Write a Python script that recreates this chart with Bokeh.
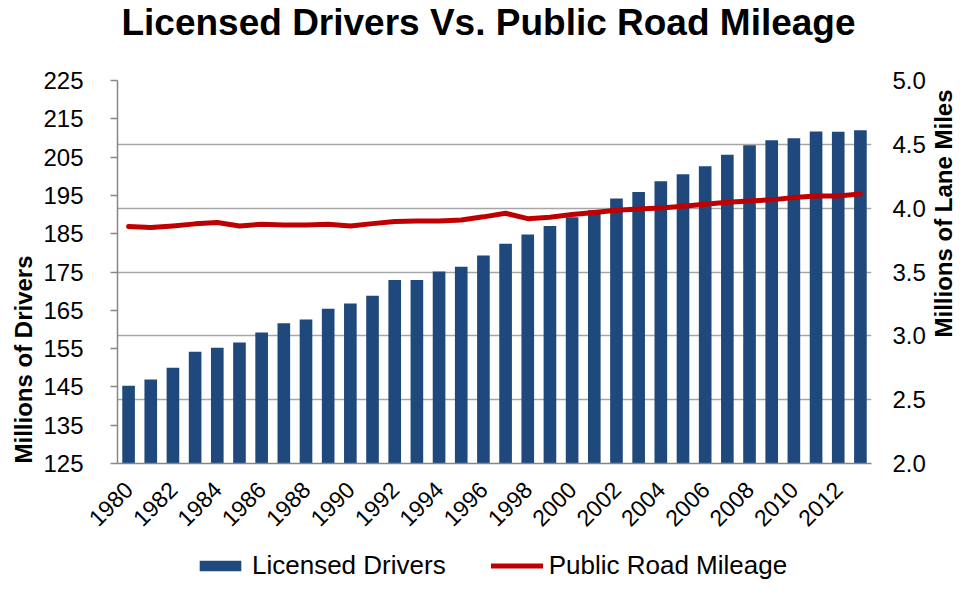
import math
from bokeh.plotting import figure
from bokeh.layouts import column, row
from bokeh.models import (Range1d, LinearAxis, FixedTicker, Grid, Legend, LegendItem,
                          Label, PrintfTickFormatter)
from bokeh.embed import file_html
from bokeh.resources import INLINE

years = list(range(1980, 2014))
licensed_drivers = [145.3, 146.9, 150.0, 154.2, 155.2, 156.6, 159.2, 161.6, 162.6, 165.4,
                    166.8, 168.8, 172.9, 172.9, 175.1, 176.4, 179.3, 182.4, 184.8, 187.0,
                    189.3, 191.1, 194.2, 195.9, 198.7, 200.5, 202.6, 205.6, 208.1, 209.4,
                    209.9, 211.7, 211.6, 212.0]
road_mileage = [3.856, 3.848, 3.861, 3.877, 3.887, 3.861, 3.874, 3.869, 3.869, 3.874,
                3.861, 3.879, 3.895, 3.900, 3.900, 3.908, 3.932, 3.960, 3.918, 3.929,
                3.950, 3.966, 3.984, 3.994, 4.002, 4.015, 4.031, 4.046, 4.057, 4.065,
                4.083, 4.096, 4.096, 4.112]
left_ticks = [125, 135, 145, 155, 165, 175, 185, 195, 205, 215, 225]
right_ticks = [2.0, 2.5, 3.0, 3.5, 4.0, 4.5, 5.0]
year_ticks = list(range(1980, 2013, 2))

title_text = "Licensed Drivers Vs. Public Road Mileage"
left_title = "Millions of Drivers"
right_title = "Millions of Lane Miles"
series_names = ["Licensed Drivers", "Public Road Mileage"]

FONT = "Liberation Sans"
BAR = "#1F497D"
RED = "#C00000"
AXIS = "#868686"
W, H = 957, 581
TOP_H, LEG_H, LEFT_W, RIGHT_W = 45, 36, 40, 29
MAIN_H = H - TOP_H - LEG_H
MAIN_W = W - LEFT_W - RIGHT_W


def blank(width, height):
    f = figure(width=width, height=height, output_backend="svg", toolbar_location=None,
               x_axis_location=None, y_axis_location=None, min_border=0,
               x_range=Range1d(0, 1), y_range=Range1d(0, 1))
    f.outline_line_color = None
    f.grid.visible = False
    f.background_fill_color = "white"
    f.border_fill_color = "white"
    return f


# ---- main chart ----
p = figure(width=MAIN_W, height=MAIN_H, output_backend="svg", toolbar_location=None,
           x_range=Range1d(1979.5, 2013.5), y_range=Range1d(left_ticks[0], left_ticks[-1]),
           min_border_left=76, min_border_right=55, min_border_top=35, min_border_bottom=82)
p.extra_y_ranges = {"miles": Range1d(right_ticks[0], right_ticks[-1])}
p.outline_line_color = None
p.background_fill_color = "white"
p.border_fill_color = "white"
p.xgrid.visible = False
p.ygrid.visible = False

bars = p.vbar(x=years, top=licensed_drivers, width=0.57, fill_color=BAR, line_color=None)
line = p.line(x=years, y=road_mileage, y_range_name="miles", line_color=RED,
              line_width=5, line_join="round", line_cap="round")

ya = p.yaxis[0]
ya.ticker = FixedTicker(ticks=left_ticks)
ya.axis_line_color = AXIS
ya.axis_line_width = 1.5
ya.major_tick_line_color = AXIS
ya.major_tick_line_width = 1.5
ya.major_tick_out = 7
ya.major_tick_in = 0
ya.minor_tick_line_color = None
ya.major_label_standoff = 27
ya.major_label_text_font = FONT
ya.major_label_text_font_size = "24px"
ya.major_label_text_color = "black"

ra = LinearAxis(y_range_name="miles", ticker=FixedTicker(ticks=right_ticks),
                formatter=PrintfTickFormatter(format="%.1f"))
ra.axis_line_color = None
ra.major_tick_line_color = None
ra.minor_tick_line_color = None
ra.major_tick_out = 0
ra.major_label_standoff = 21
ra.major_label_text_font = FONT
ra.major_label_text_font_size = "24px"
ra.major_label_text_color = "black"
p.add_layout(ra, "right")

xa = p.xaxis[0]
xa.ticker = FixedTicker(ticks=year_ticks)
xa.axis_line_color = AXIS
xa.axis_line_width = 1.5
xa.major_tick_line_color = None
xa.minor_tick_line_color = None
xa.major_label_orientation = math.pi / 4
xa.major_label_standoff = 16
xa.major_label_text_font = FONT
xa.major_label_text_font_size = "23px"
xa.major_label_text_color = "black"

g = Grid(dimension=1, ticker=ra.ticker, y_range_name="miles",
         grid_line_color="#A6A6A6", grid_line_width=1.5, level="underlay")
p.add_layout(g)

# ---- title strip ----
pt = blank(W, TOP_H)
pt.add_layout(Label(x=488, y=23, x_units="screen", y_units="screen", text=title_text,
                    text_align="center", text_baseline="middle", text_font=FONT,
                    text_font_style="bold", text_font_size="37px", text_color="black"))

# ---- side strips with the axis titles (their frames line up with the main frame) ----
pl = blank(LEFT_W, MAIN_H)
pl.add_layout(Label(x=23, y=104, x_units="screen", y_units="screen", text=left_title,
                    angle=math.pi / 2, text_align="center", text_baseline="middle",
                    text_font=FONT, text_font_style="bold", text_font_size="24px",
                    text_color="black"))
pr = blank(RIGHT_W, MAIN_H)
pr.add_layout(Label(x=15, y=250, x_units="screen", y_units="screen", text=right_title,
                    angle=math.pi / 2, text_align="center", text_baseline="middle",
                    text_font=FONT, text_font_style="bold", text_font_size="24px",
                    text_color="black"))

# ---- legend strip (its renderers lie outside its own view; only the keys show) ----
pg = blank(W, LEG_H)
kb = pg.vbar(x=years, top=licensed_drivers, width=0.57, fill_color=BAR, line_color=None)
kl = pg.line(x=years, y=road_mileage, line_color=RED, line_width=5, line_cap="round")
legend = Legend(items=[LegendItem(label=series_names[0], renderers=[kb]),
                       LegendItem(label=series_names[1], renderers=[kl])],
                orientation="horizontal", location=(194, 0),
                glyph_width=52, glyph_height=13, label_standoff=6, spacing=45,
                padding=0, margin=0, border_line_color=None, background_fill_alpha=0,
                label_text_font=FONT, label_text_font_size="26px", label_text_color="black")
pg.add_layout(legend)

layout = column(pt, row(pl, p, pr), pg)
open("out.html", "w").write(file_html(layout, INLINE))
